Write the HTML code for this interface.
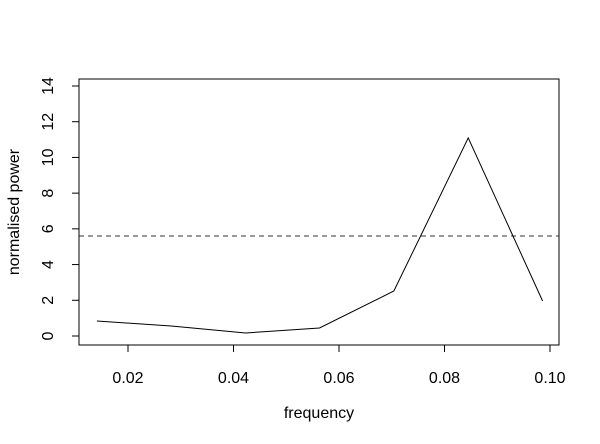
<!DOCTYPE html>
<html><head><meta charset="utf-8"><style>
body{margin:0;background:#fff}
svg{display:block;font-family:"Liberation Sans",sans-serif;font-size:16px}
</style></head><body>
<svg id="c" width="600" height="444">
<rect x="79" y="79" width="480" height="266" fill="none" stroke="#000"/>
<g id="xa"></g>
<g id="ya"></g>
<line id="thr" stroke="#333" stroke-dasharray="5,4"/>
<polyline id="ln" fill="none" stroke="#000"/>
<text x="319" y="418" text-anchor="middle">frequency</text>
<text transform="translate(19,212) rotate(-90)" text-anchor="middle">normalised power</text>
</svg>
<script>
const freqs=[0.0141,0.0282,0.0423,0.0563,0.0704,0.0845,0.0986];
const power=[0.84,0.56,0.17,0.45,2.52,11.09,1.96];
const threshold=5.6;
const xTicks=[0.02,0.04,0.06,0.08,0.10];
const xTickLabels=["0.02","0.04","0.06","0.08","0.10"];
const yTicks=[0,2,4,6,8,10,12,14];
const X=v=>128+(v-0.02)*5275;
const Y=v=>336-v*250/14;
const NS="http://www.w3.org/2000/svg";
function mk(t,a,p){const e=document.createElementNS(NS,t);for(const k in a)e.setAttribute(k,a[k]);p.appendChild(e);return e;}
const xa=document.getElementById('xa'),ya=document.getElementById('ya');
mk('line',{x1:X(xTicks[0]),x2:X(xTicks[xTicks.length-1]),y1:345,y2:345,stroke:'#000'},xa);
xTicks.forEach((t,i)=>{
 const l=mk('line',{x1:X(t),x2:X(t),y1:345,y2:352,stroke:'#000'},xa);
 
 
 const tx=mk('text',{x:X(t),y:383,'text-anchor':'middle'},xa);tx.textContent=xTickLabels[i];
 
 
});
mk('line',{x1:79,x2:79,y1:Y(yTicks[0]),y2:Y(yTicks[yTicks.length-1]),stroke:'#000'},ya);
yTicks.forEach(t=>{
 const l=mk('line',{x1:72,x2:79,y1:Y(t),y2:Y(t),stroke:'#000'},ya);
 
 
 const tx=mk('text',{transform:`translate(53,${Y(t)}) rotate(-90)`,'text-anchor':'middle'},ya);tx.textContent=String(t);
 
 
});
const th=document.getElementById('thr');
th.setAttribute('x1',79);th.setAttribute('x2',559);th.setAttribute('y1',Y(threshold));th.setAttribute('y2',Y(threshold));
document.getElementById('ln').setAttribute('points',freqs.map((f,i)=>X(f)+','+Y(power[i])).join(' '));
</script>
</body></html>
